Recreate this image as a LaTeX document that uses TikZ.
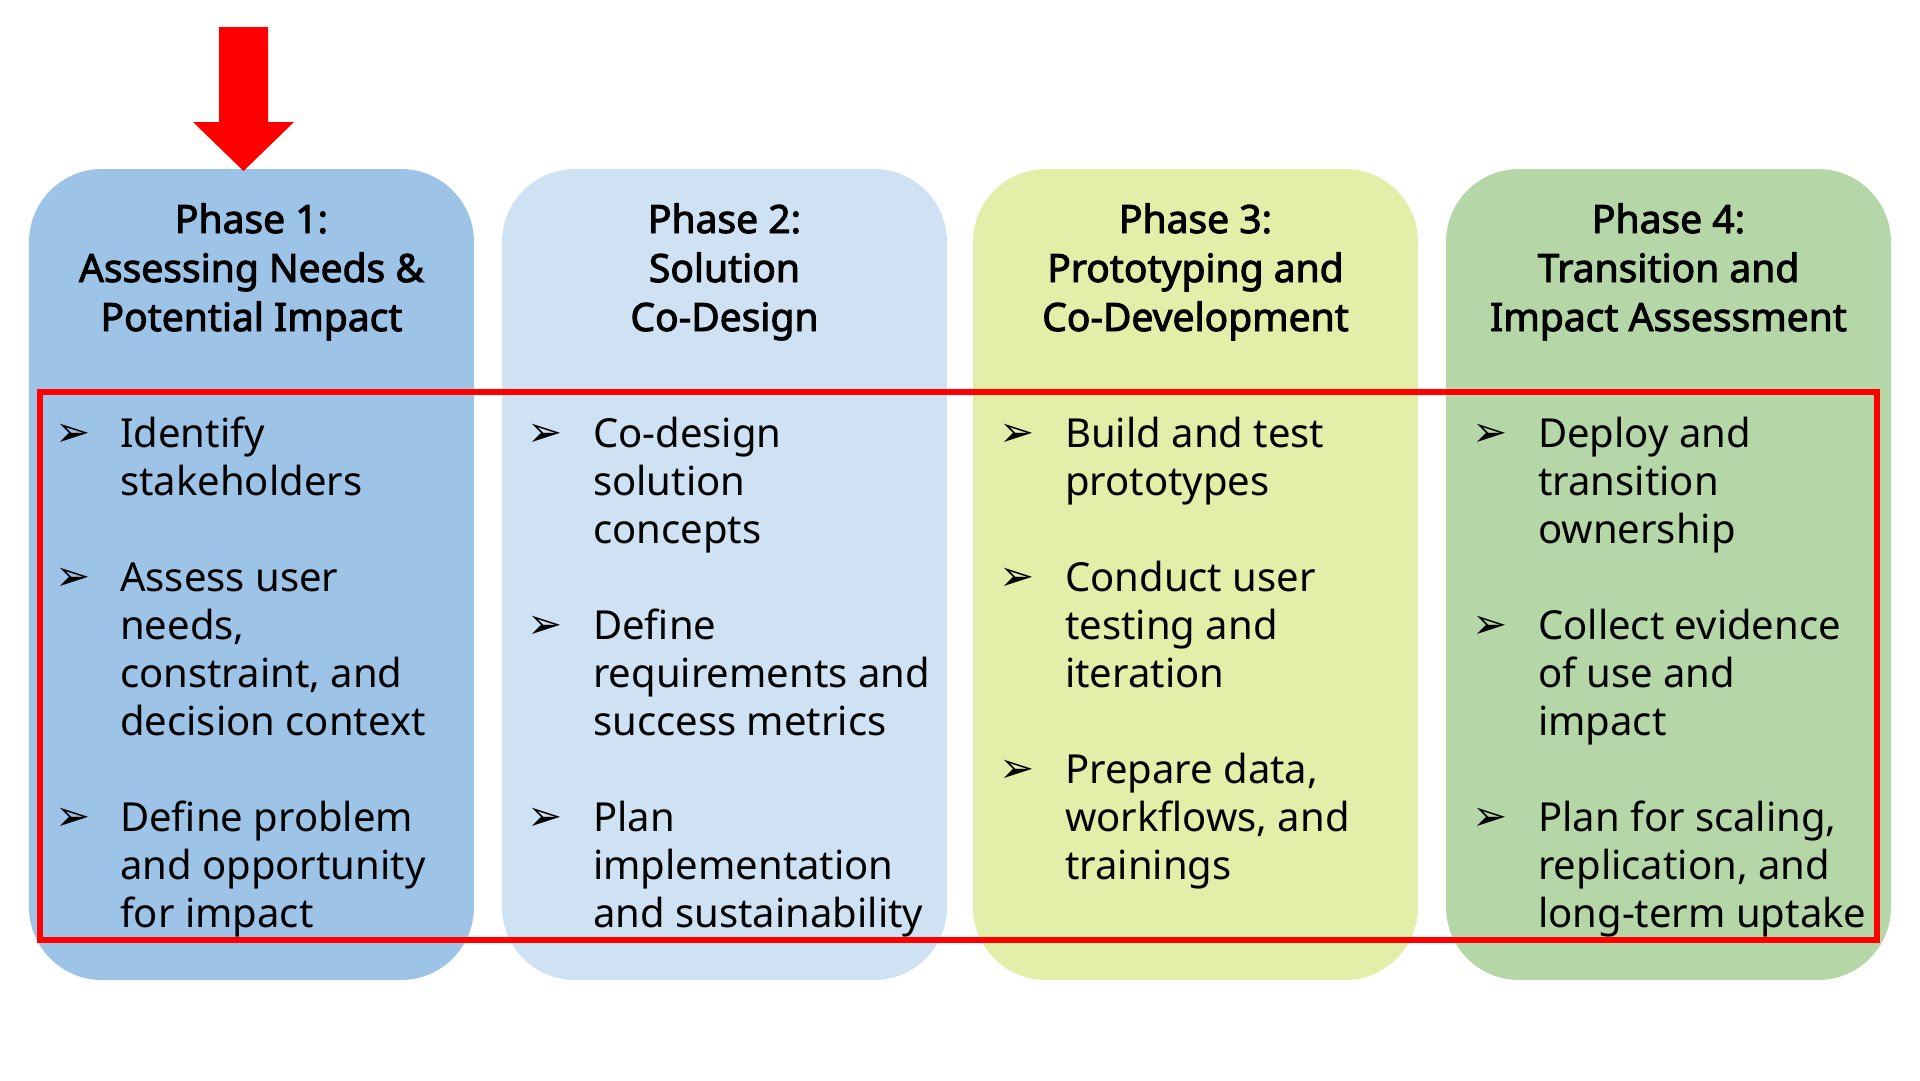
\documentclass[tikz,border=0pt]{standalone}
\usepackage{fontspec}
\setmainfont{Noto Sans}[AutoFakeBold=2.5]
\newfontfamily\symf{DejaVu Sans}
\definecolor{c1}{HTML}{9DC3E6}
\definecolor{c2}{HTML}{CFE2F3}
\definecolor{c3}{HTML}{E2EFA9}
\definecolor{c4}{HTML}{B5D7A8}
\definecolor{rd}{HTML}{FF0000}
\begin{document}
\begin{tikzpicture}[x=1pt,y=-1pt,
  box/.style={rounded corners=73pt},
  ttl/.style={anchor=base,font=\fontsize{39}{48}\selectfont\bfseries,inner sep=0},
  ln/.style={anchor=base west,font=\fontsize{40}{48}\selectfont,inner sep=0},
  bl/.style={anchor=base west,font=\fontsize{42}{48}\symf,inner sep=0}]
\useasboundingbox (0,0) rectangle (1920,1080);
\fill[c1,box] (29,169) rectangle (474,980);
\fill[c2,box] (502,169) rectangle (947,980);
\fill[c3,box] (973,169) rectangle (1418,980);
\fill[c4,box] (1446,169) rectangle (1891,980);
\fill[rd] (219,27) -- (268,27) -- (268,122) -- (294,122) -- (243.5,171) -- (193,122) -- (219,122) -- cycle;
\draw[rd,line width=6pt] (40,392) rectangle (1877,940);
% titles
\foreach \x/\a/\b/\c [count=\n] in {251.5/Phase 1:/Assessing Needs \&/Potential Impact,
  724.5/Phase 2:/Solution/Co-Design,
  1195.5/Phase 3:/Prototyping and/Co-Development,
  1668.5/Phase 4:/Transition and/Impact Assessment}{
  \node[ttl] (t\n a) at (\x,233) {\a};
  \node[ttl] (t\n b) at (\x,282) {\b};
  \node[ttl] (t\n c) at (\x,331) {\c};
}
% bullets
\foreach \x/\k [count=\n] in {55/0,55/3,55/8,527/0,527/4,527/8,999/0,999/3,999/7,1472/0,1472/4,1472/8}{
  \node[bl] (b\n) at (\x,446+48*\k) {➢};
}
% lines
\foreach \x/\k/\t [count=\n] in {
 120/0/Identify,120/1/stakeholders,120/3/Assess user,120/4/{needs,},120/5/{constraint, and},120/6/decision context,120/8/Define problem,120/9/and opportunity,120/10/for impact,
 593/0/Co-design,593/1/solution,593/2/concepts,593/4/Define,593/5/requirements and,593/6/success metrics,593/8/Plan,593/9/implementation,593/10/and sustainability,
 1065/0/Build and test,1065/1/prototypes,1065/3/Conduct user,1065/4/testing and,1065/5/iteration,1065/7/{Prepare data,},1065/8/{workflows, and},1065/9/trainings,
 1538/0/Deploy and,1538/1/transition,1538/2/ownership,1538/4/Collect evidence,1538/5/of use and,1538/6/impact,1538/8/{Plan for scaling,},1538/9/{replication, and},1538/10/long-term uptake}{
  \node[ln] (l\n) at (\x,447+48*\k) {\t};
}
\end{tikzpicture}
\end{document}
